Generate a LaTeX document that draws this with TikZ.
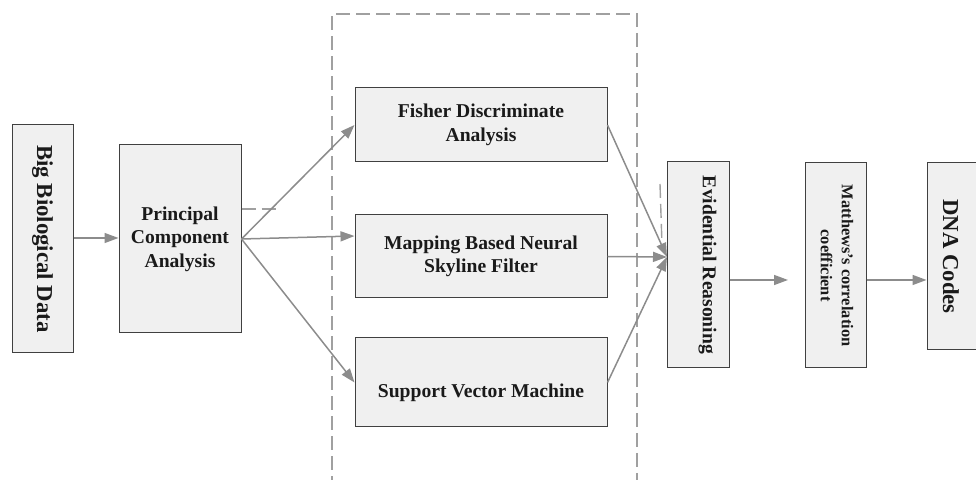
\documentclass[tikz,border=0pt]{standalone}
\usepackage{fontspec}
\setmainfont{Liberation Serif}
\usetikzlibrary{arrows.meta,calc}

\definecolor{boxline}{HTML}{404040}
\definecolor{boxfill}{HTML}{F0F0F0}
\definecolor{flow}{HTML}{8C8C8C}
\definecolor{frame}{HTML}{A0A0A0}
\definecolor{ink}{HTML}{1A1A1A}

\tikzset{
  stage/.style={draw=boxline, fill=boxfill, line width=0.5pt, inner sep=0pt,
    align=center, text=ink, font=\bfseries\fontsize{9.8}{11.75}\selectfont},
  bigtext/.style={font=\bfseries\fontsize{11.4}{13.5}\selectfont},
  smalltext/.style={font=\bfseries\fontsize{8.2}{10.5}\selectfont},
  flowarrow/.style={draw=flow, line width=0.75pt, -{Triangle[length=7pt,width=5pt]}},
  groupline/.style={draw=frame, line width=0.7pt, dash pattern=on 7pt off 3pt},
}

\begin{document}
\begin{tikzpicture}[x=0.5pt,y=-0.5pt]
\useasboundingbox (0,0) rectangle (976,480);
\clip (0,0) rectangle (976,480);

% dashed frame around the three classifiers (open at the bottom)
\draw[groupline] (332,490) -- (332,14) -- (637,14) -- (637,490);

% processing stages
\node[stage, bigtext, minimum width=30.5pt, minimum height=114pt] (bbd) at (42.5,239)
  {\rotatebox[origin=c]{-90}{Big Biological Data}};
\node[stage, minimum width=61pt, minimum height=94pt] (pca) at (180,239)
  {Principal\\Component\\Analysis};
\node[stage, minimum width=126pt, minimum height=37pt] (fda) at (481,125)
  {Fisher Discriminate\\Analysis};
\node[stage, minimum width=126pt, minimum height=41.5pt] (mbn) at (481,256.5)
  {Mapping Based Neural\\Skyline Filter};
\node[stage, minimum width=126pt, minimum height=44.5pt] (svm) at (481,382.5)
  {\raisebox{0pt}[\dimexpr\height+10pt\relax]{Support Vector Machine}};
\node[stage, minimum width=31pt, minimum height=103pt] (er) at (698,265)
  {\hspace*{9.5pt}\rotatebox[origin=c]{-90}{Evidential Reasoning}};
\node[stage, smalltext, minimum width=30.5pt, minimum height=102.5pt] (mcc) at (835.5,265.5)
  {\rotatebox[origin=c]{-90}{\begin{tabular}{@{}c@{}}Matthews’s correlation\\coefficient\end{tabular}}};
\node[stage, bigtext, minimum width=31.5pt, minimum height=93.5pt] (dna) at (958.5,256.5)
  {\rotatebox[origin=c]{-90}{DNA Codes}\hspace*{7.5pt}};

% short dashed strokes
\coordinate (pcatap) at (278,209);
\draw[groupline] (pca.east |- pcatap) -- (pcatap);
\coordinate (ertapA) at (660,184);
\coordinate (ertapB) at (662,245);
\draw[groupline] (ertapA) -- (ertapB);

% connectors
\draw[flowarrow] (bbd.east |- 0,238) -- (pca.west |- 0,238);
\draw[flowarrow] (pca.east) -- (fda.west);
\draw[flowarrow] (pca.east) -- ($(mbn.west)+(0,-20.5)$);
\draw[flowarrow] (pca.east) -- (svm.west);

\coordinate (merge) at (667,257);
\draw[flowarrow] (fda.east) -- (merge);
\draw[flowarrow] (mbn.east) -- (merge);
\draw[flowarrow] (svm.east) -- (merge);

\coordinate (mccin) at (788,280);
\draw[flowarrow] (er.east |- mccin) -- (mccin);
\draw[flowarrow] (mcc.east |- mccin) -- (dna.west |- mccin);
\end{tikzpicture}
\end{document}
